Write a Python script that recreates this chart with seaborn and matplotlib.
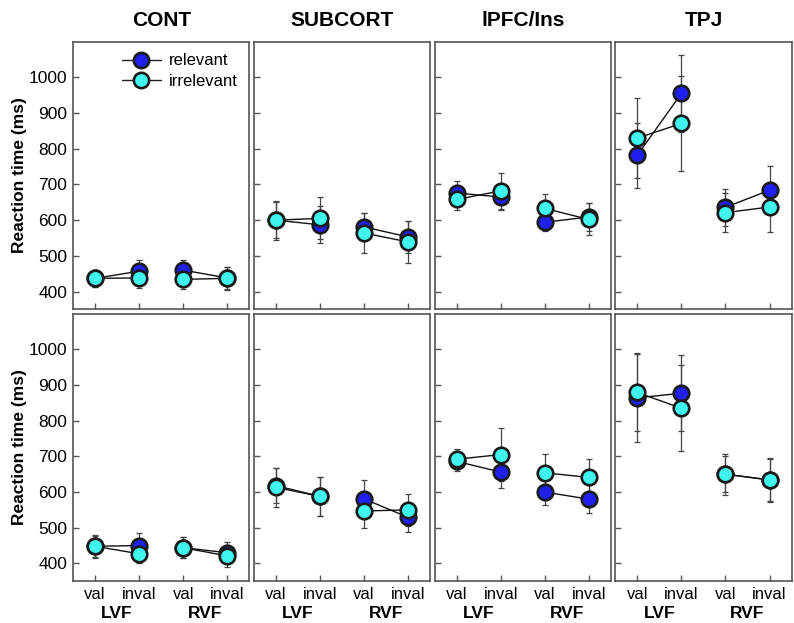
import pandas as pd
import numpy as np
import matplotlib
matplotlib.use("Agg")
import matplotlib.pyplot as plt
import matplotlib.transforms as mtransforms
from matplotlib.lines import Line2D
import seaborn as sns

# datos (medias y barras de error en ms)
regiones = ["CONT", "SUBCORT", "lPFC/Ins", "TPJ"]
condiciones = ["val", "inval", "val", "inval"]
campos = ["LVF", "LVF", "RVF", "RVF"]
series = ["relevant", "irrelevant"]

arriba_rel = [[437, 457, 460, 438], [600, 587, 581, 553], [676, 665, 594, 609], [782, 955, 636, 684]]
arriba_rel_err = [[24, 30, 28, 30], [55, 52, 40, 44], [33, 36, 24, 40], [91, 108, 51, 67]]
arriba_irr = [[437, 438, 434, 437], [600, 605, 564, 539], [658, 682, 633, 602], [830, 871, 621, 637]]
arriba_irr_err = [[24, 29, 26, 32], [50, 59, 57, 58], [29, 50, 40, 45], [113, 132, 55, 69]]

abajo_rel = [[448, 450, 444, 430], [618, 588, 581, 529], [686, 656, 600, 580], [864, 877, 650, 634]]
abajo_rel_err = [[30, 36, 30, 30], [50, 55, 54, 40], [28, 44, 36, 39], [125, 107, 58, 62]]
abajo_irr = [[448, 427, 444, 421], [613, 588, 547, 550], [692, 705, 654, 641], [879, 835, 650, 634]]
abajo_irr_err = [[32, 27, 30, 30], [55, 55, 48, 45], [28, 74, 53, 53], [109, 120, 50, 60]]

colores = {"relevant": "#2020ec", "irrelevant": "#40f5ee"}

# tabla larga
filas = []
bloques = [
    (0, "relevant", arriba_rel, arriba_rel_err),
    (0, "irrelevant", arriba_irr, arriba_irr_err),
    (1, "relevant", abajo_rel, abajo_rel_err),
    (1, "irrelevant", abajo_irr, abajo_irr_err),
]
for fila, serie, medias, errores in bloques:
    for r, region in enumerate(regiones):
        for i in range(4):
            filas.append({"fila": fila, "region": region, "serie": serie, "pos": i + 1,
                          "campo": campos[i], "rt": medias[r][i], "err": errores[r][i]})
df = pd.DataFrame(filas)
df["tramo"] = df["serie"] + "_" + df["campo"]

sns.set_style("ticks")
plt.rcParams["font.family"] = ["Liberation Sans", "DejaVu Sans"]
plt.rcParams["text.color"] = "black"
plt.rcParams["axes.labelcolor"] = "black"

fig, axes = plt.subplots(2, 4, figsize=(7.94, 6.23), dpi=100, sharex=True, sharey=True)
fig.subplots_adjust(left=0.092, right=0.997, top=0.933, bottom=0.067, wspace=0.025, hspace=0.016)

for fila in range(2):
    for r, region in enumerate(regiones):
        ax = axes[fila, r]
        for serie in series:
            d = df[(df["fila"] == fila) & (df["region"] == region) & (df["serie"] == serie)]
            ax.errorbar(d["pos"], d["rt"], yerr=d["err"], fmt="none", ecolor="#444444",
                        elinewidth=0.9, capsize=2.2, capthick=0.9, zorder=2)
            sns.lineplot(data=d, x="pos", y="rt", units="tramo", estimator=None,
                         color="#111111", linewidth=1.0, ax=ax, legend=False, zorder=2)
            sns.scatterplot(data=d, x="pos", y="rt", color=colores[serie], s=125,
                            edgecolor="#1a1a1a", linewidth=1.9, ax=ax, legend=False, zorder=3)
        ax.set_xlim(0.5, 4.5)
        ax.set_ylim(350, 1100)
        ax.set_yticks(range(400, 1001, 100))
        ax.set_xticks([1, 2, 3, 4])
        ax.set_xticklabels(condiciones)
        ax.set_xlabel("")
        ax.set_ylabel("")
        ax.tick_params(direction="in", length=4, width=1, color="#555555",
                       labelcolor="black", pad=4)
        ax.tick_params(axis="y", labelsize=12.5)
        ax.tick_params(axis="x", labelsize=12)
        for lado in ax.spines.values():
            lado.set_color("#555555")
            lado.set_linewidth(1.2)
        if fila == 0:
            ax.set_title(region, fontsize=15, fontweight="bold", pad=11)
            ax.tick_params(labelbottom=False)
        else:
            trans = mtransforms.blended_transform_factory(ax.transData, ax.transAxes)
            ax.text(1.5, -0.12, "LVF", transform=trans, ha="center", va="center",
                    fontsize=12.5, fontweight="bold")
            ax.text(3.5, -0.12, "RVF", transform=trans, ha="center", va="center",
                    fontsize=12.5, fontweight="bold")
        if r == 0:
            ax.set_ylabel("Reaction time (ms)", fontsize=12.5, fontweight="bold", labelpad=1)

# leyenda
manijas = [Line2D([], [], color="#222222", lw=1.0, marker="o", markersize=11,
                  markerfacecolor=colores[s], markeredgecolor="#1a1a1a",
                  markeredgewidth=1.9, label=s) for s in series]
axes[0, 0].legend(handles=manijas, loc="upper right", bbox_to_anchor=(1.0, 1.0),
                  frameon=False, fontsize=12, handlelength=2.3, handletextpad=0.5,
                  labelspacing=0.35, borderaxespad=0.3)

plt.savefig("out.png", dpi=100)
